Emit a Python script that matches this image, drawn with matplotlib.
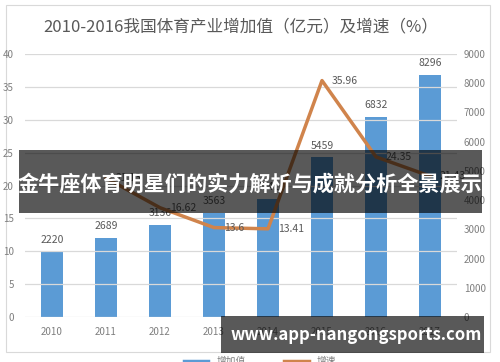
import matplotlib
matplotlib.use("Agg")
import matplotlib.pyplot as plt
from matplotlib.patches import Rectangle
from matplotlib.lines import Line2D

plt.rcParams['font.family'] = ['Noto Sans CJK SC', 'DejaVu Sans']

years = ['2010', '2011', '2012', '2013', '2014', '2015', '2016', '2017']
added_value = [2220, 2689, 3136, 3563, 4041, 5459, 6832, 8296]
growth_years = ['2011', '2012', '2013', '2014', '2015', '2016', '2017']
growth = [21.13, 16.62, 13.6, 13.41, 35.96, 24.35, 21.43]
left_ticks = [0, 5, 10, 15, 20, 25, 30, 35, 40]
right_ticks = [0, 1000, 2000, 3000, 4000, 5000, 6000, 7000, 8000, 9000]

title = '2010-2016我国体育产业增加值（亿元）及增速（%）'
banner = '金牛座体育明星们的实力解析与成就分析全景展示'
watermark = 'www.app-nangongsports.com'

W, H = 500, 362
fig = plt.figure(figsize=(W / 100, H / 100), dpi=100)
fig.patch.set_facecolor('white')

# outer chart frame
fig.add_artist(Rectangle((6 / W, 1 - 352 / H), 484 / W, 347 / H, transform=fig.transFigure,
                         fill=False, edgecolor='#d9d9d9', linewidth=0.8))

ax = fig.add_axes([25 / W, 1 - 317 / H, 432 / W, 263 / H])
ax2 = ax.twinx()

text_gray = '#7f7f7f'
label_gray = '#595959'
bar_color = '#5b9bd5'
line_color = '#d0844c'

x = list(range(len(years)))
ax.set_xlim(-0.5, len(years) - 0.5)
ax.set_ylim(0, 40)
ax.set_yticks(left_ticks)
ax.grid(axis='y', color='#d9d9d9', linewidth=0.9)
ax.set_axisbelow(True)
for s in ax.spines.values():
    s.set_visible(False)
for s in ax2.spines.values():
    s.set_visible(False)
ax.tick_params(axis='both', length=0, labelsize=7, labelcolor=text_gray)
ax.tick_params(axis='x', pad=7)
ax.tick_params(axis='y', pad=8)
ax.set_xticks(x)
ax.set_xticklabels(years)

ax2.set_ylim(0, 9000)
ax2.set_yticks(right_ticks)
ax2.tick_params(axis='y', length=0, labelsize=7, labelcolor=text_gray, pad=5)

bars = ax2.bar(x, added_value, width=0.39, color=bar_color, zorder=2)
for xi, v in zip(x, added_value):
    ax2.annotate(str(v), (xi, v), xytext=(0, 5), textcoords='offset points',
                 ha='center', va='bottom', fontsize=7.5, color=label_gray)

# growth line on left axis, drawn above bars
ax.set_zorder(ax2.get_zorder() + 1)
ax.patch.set_visible(False)
gx = [years.index(y) for y in growth_years]
ax.plot(gx, growth, color=line_color, linewidth=2.5, zorder=3)
for xi, v in zip(gx, growth):
    ax.annotate(f'{v:g}', (xi, v), xytext=(7, 0), textcoords='offset points',
                ha='left', va='center', fontsize=7.5, color=label_gray)

fig.text(241 / W, 1 - 27 / H, title, ha='center', va='center', fontsize=12, color=label_gray)

# legend (partially cut at bottom)
handles = [Line2D([0], [0], color=bar_color, linewidth=2.5),
           Line2D([0], [0], color=line_color, linewidth=2.5)]
fig.legend(handles, ['增加值', '增速'], loc='center', bbox_to_anchor=(260 / W, 1 - 361 / H),
           ncol=2, frameon=False, fontsize=7, labelcolor=text_gray, handlelength=2.5,
           columnspacing=4)

# overlay banner
fig.add_artist(Rectangle((19 / W, 1 - 213 / H), 463 / W, 63 / H, transform=fig.transFigure,
                         facecolor='black', alpha=0.65, edgecolor='none', zorder=10))
fig.text(250 / W, 1 - 184 / H, banner, ha='center', va='center', fontsize=15.2,
         fontweight='bold', color='white', zorder=11)

# watermark
fig.add_artist(Rectangle((221 / W, 1 - 353 / H), 263 / W, 37 / H, transform=fig.transFigure,
                         facecolor='black', alpha=0.65, edgecolor='none', zorder=10))
fig.text(356 / W, 1 - 335 / H, watermark, ha='center', va='center', fontsize=12,
         fontweight='bold', color='white', zorder=11)

fig.savefig('out.png', dpi=100, facecolor='white')
